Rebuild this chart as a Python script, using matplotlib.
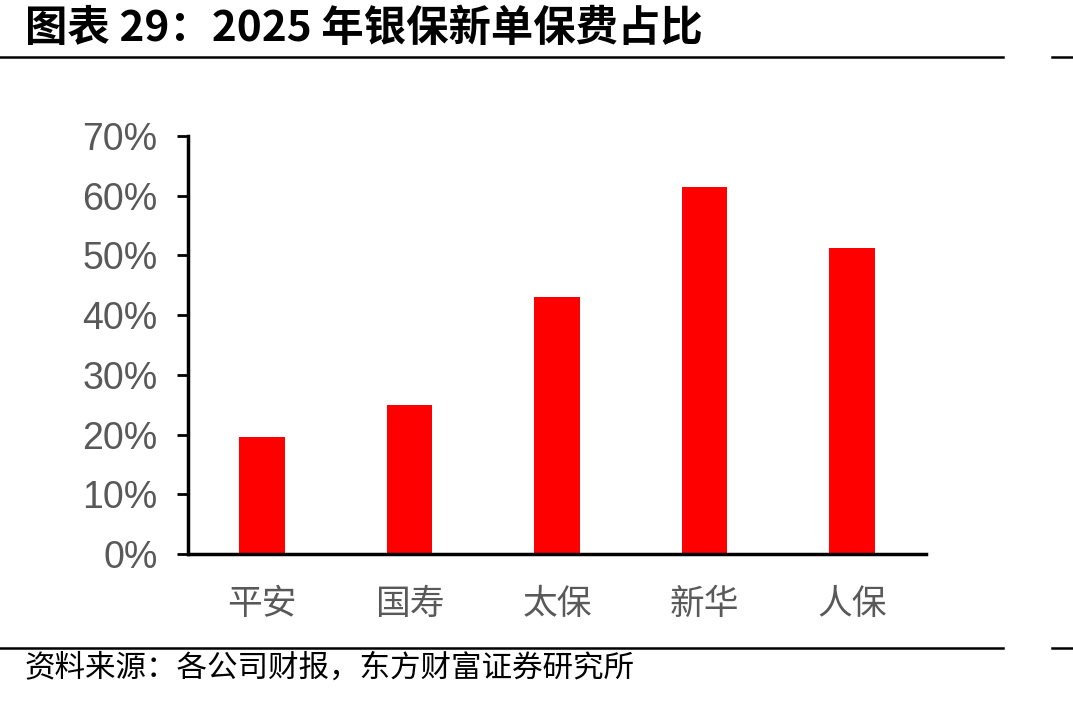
import matplotlib
matplotlib.use('Agg')
import matplotlib.pyplot as plt
from matplotlib.lines import Line2D
from matplotlib.ticker import PercentFormatter

plt.rcParams['font.family'] = ['Noto Sans CJK SC', 'DejaVu Sans']

companies = ['平安', '国寿', '太保', '新华', '人保']
share = [0.196, 0.249, 0.430, 0.615, 0.513]
yticks = [0, 0.1, 0.2, 0.3, 0.4, 0.5, 0.6, 0.7]

title = '图表 29：2025 年银保新单保费占比'
source = '资料来源：各公司财报，东方财富证券研究所'

fig = plt.figure(figsize=(10.73, 7.01), dpi=100)
ax = fig.add_axes([0.1752, 0.2097, 0.6878, 0.5963])

ax.bar(range(len(companies)), share, width=0.31, color='#ff0000')
ax.set_xlim(-0.5, len(companies) - 0.5)
ax.set_ylim(0, 0.7)
ax.set_yticks(yticks)
ax.yaxis.set_major_formatter(PercentFormatter(1.0, decimals=0))
ax.set_xticks(range(len(companies)))
ax.set_xticklabels(companies, fontsize=25, color='#595959')

for lab in ax.get_yticklabels():
    lab.set_family('Liberation Sans')
    lab.set_fontsize(27)
    lab.set_color('#595959')

ax.tick_params(axis='y', length=8, width=2, direction='out', pad=14)
ax.tick_params(axis='x', length=0, pad=24)
for s in ['top', 'right']:
    ax.spines[s].set_visible(False)
for s in ['left', 'bottom']:
    ax.spines[s].set_linewidth(2.5)
    ax.spines[s].set_color('black')

# title, source and rules
fig.text(0.023, 0.958, title, fontsize=30.5, fontweight='bold', va='center', ha='left')
fig.text(0.023, 0.047, source, fontsize=22, va='center', ha='left')

for y in [1 - 57 / 701, 1 - 648 / 701]:
    fig.add_artist(Line2D([0, 1003 / 1073], [y, y], color='black', lw=1.8))
    fig.add_artist(Line2D([1052 / 1073, 1], [y, y], color='black', lw=1.8))

fig.savefig('out.png', dpi=100)
